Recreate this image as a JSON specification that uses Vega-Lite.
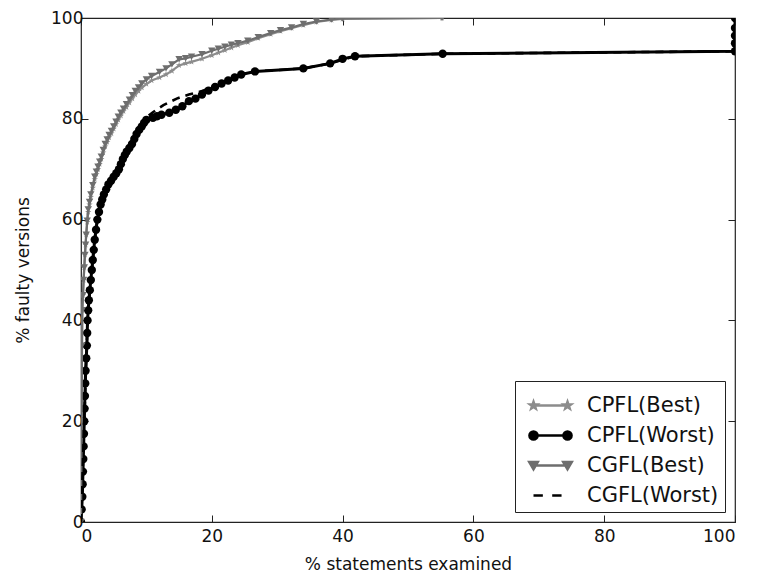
{
  "$schema": "https://vega.github.io/schema/vega-lite/v6.json",
  "width": 654,
  "height": 504,
  "autosize": {"type": "none"},
  "padding": {"left": 81, "top": 18, "right": 26, "bottom": 54},
  "background": "white",
  "config": {
    "font": "DejaVu Sans",
    "view": {"stroke": "#222222", "strokeWidth": 1.2},
    "axis": {
      "grid": false,
      "domain": false,
      "tickColor": "#222222",
      "tickSize": -7,
      "tickWidth": 1,
      "labelFont": "DejaVu Sans",
      "labelFontSize": 17,
      "labelColor": "#111111",
      "titleFont": "DejaVu Sans",
      "titleFontSize": 17,
      "titleFontWeight": "normal",
      "titleColor": "#111111"
    },
    "legend": {
      "orient": "bottom-right",
      "offset": 10,
      "padding": 6,
      "strokeColor": "#222222",
      "fillColor": "white",
      "cornerRadius": 0,
      "labelFont": "DejaVu Sans",
      "labelFontSize": 21,
      "labelColor": "#111111",
      "symbolSize": 1156,
      "symbolStrokeWidth": 2.5,
      "symbolOffset": 11,
      "labelOffset": 18,
      "rowPadding": 1
    }
  },
  "data": {
    "values": [
      {"s": "CPFL(Best)", "x": 0, "y": 0},
      {"s": "CPFL(Best)", "x": 0.1, "y": 20},
      {"s": "CPFL(Best)", "x": 0.15, "y": 35},
      {"s": "CPFL(Best)", "x": 0.2, "y": 42},
      {"s": "CPFL(Best)", "x": 0.3, "y": 45},
      {"s": "CPFL(Best)", "x": 0.4, "y": 48},
      {"s": "CPFL(Best)", "x": 0.5, "y": 50.5},
      {"s": "CPFL(Best)", "x": 0.6, "y": 53},
      {"s": "CPFL(Best)", "x": 0.7, "y": 55},
      {"s": "CPFL(Best)", "x": 0.8, "y": 57},
      {"s": "CPFL(Best)", "x": 0.95, "y": 59.5},
      {"s": "CPFL(Best)", "x": 1.1, "y": 61.5},
      {"s": "CPFL(Best)", "x": 1.3, "y": 63},
      {"s": "CPFL(Best)", "x": 1.5, "y": 64.5},
      {"s": "CPFL(Best)", "x": 1.8, "y": 66.3},
      {"s": "CPFL(Best)", "x": 2.1, "y": 68},
      {"s": "CPFL(Best)", "x": 2.35, "y": 69},
      {"s": "CPFL(Best)", "x": 2.6, "y": 70},
      {"s": "CPFL(Best)", "x": 2.85, "y": 71},
      {"s": "CPFL(Best)", "x": 3.1, "y": 72},
      {"s": "CPFL(Best)", "x": 3.4, "y": 73.3},
      {"s": "CPFL(Best)", "x": 3.7, "y": 74.5},
      {"s": "CPFL(Best)", "x": 4.0, "y": 75.4},
      {"s": "CPFL(Best)", "x": 4.3, "y": 76.3},
      {"s": "CPFL(Best)", "x": 4.65, "y": 77.1},
      {"s": "CPFL(Best)", "x": 5.0, "y": 78},
      {"s": "CPFL(Best)", "x": 5.35, "y": 78.9},
      {"s": "CPFL(Best)", "x": 5.7, "y": 79.8},
      {"s": "CPFL(Best)", "x": 6.1, "y": 80.6},
      {"s": "CPFL(Best)", "x": 6.5, "y": 81.5},
      {"s": "CPFL(Best)", "x": 6.95, "y": 82.3},
      {"s": "CPFL(Best)", "x": 7.4, "y": 83.2},
      {"s": "CPFL(Best)", "x": 7.85, "y": 84},
      {"s": "CPFL(Best)", "x": 8.3, "y": 84.8},
      {"s": "CPFL(Best)", "x": 8.8, "y": 85.5},
      {"s": "CPFL(Best)", "x": 9.3, "y": 86.2},
      {"s": "CPFL(Best)", "x": 10.0, "y": 86.9},
      {"s": "CPFL(Best)", "x": 10.8, "y": 87.6},
      {"s": "CPFL(Best)", "x": 12.0, "y": 88.2},
      {"s": "CPFL(Best)", "x": 13.0, "y": 88.8},
      {"s": "CPFL(Best)", "x": 13.9, "y": 89.5},
      {"s": "CPFL(Best)", "x": 15.0, "y": 90.6},
      {"s": "CPFL(Best)", "x": 16.0, "y": 91.0},
      {"s": "CPFL(Best)", "x": 16.9, "y": 91.3},
      {"s": "CPFL(Best)", "x": 18.5, "y": 91.9},
      {"s": "CPFL(Best)", "x": 20.0, "y": 92.6},
      {"s": "CPFL(Best)", "x": 21.0, "y": 93.1},
      {"s": "CPFL(Best)", "x": 22.0, "y": 93.6},
      {"s": "CPFL(Best)", "x": 23.0, "y": 94.1},
      {"s": "CPFL(Best)", "x": 24.0, "y": 94.6},
      {"s": "CPFL(Best)", "x": 25.5, "y": 95.2},
      {"s": "CPFL(Best)", "x": 27.1, "y": 96},
      {"s": "CPFL(Best)", "x": 29.0, "y": 96.8},
      {"s": "CPFL(Best)", "x": 30.5, "y": 97.4},
      {"s": "CPFL(Best)", "x": 32.2, "y": 98},
      {"s": "CPFL(Best)", "x": 34.0, "y": 98.6},
      {"s": "CPFL(Best)", "x": 36.0, "y": 99.2},
      {"s": "CPFL(Best)", "x": 38.3, "y": 99.6},
      {"s": "CPFL(Best)", "x": 40.0, "y": 99.8},
      {"s": "CPFL(Best)", "x": 55.2, "y": 100},

      {"s": "CPFL(Worst)", "x": 0, "y": 0},
      {"s": "CPFL(Worst)", "x": 0.1, "y": 2.5},
      {"s": "CPFL(Worst)", "x": 0.2, "y": 5},
      {"s": "CPFL(Worst)", "x": 0.25, "y": 7.5},
      {"s": "CPFL(Worst)", "x": 0.3, "y": 10},
      {"s": "CPFL(Worst)", "x": 0.35, "y": 12.5},
      {"s": "CPFL(Worst)", "x": 0.4, "y": 15},
      {"s": "CPFL(Worst)", "x": 0.45, "y": 17.5},
      {"s": "CPFL(Worst)", "x": 0.5, "y": 20},
      {"s": "CPFL(Worst)", "x": 0.55, "y": 22.5},
      {"s": "CPFL(Worst)", "x": 0.6, "y": 25},
      {"s": "CPFL(Worst)", "x": 0.65, "y": 27.5},
      {"s": "CPFL(Worst)", "x": 0.7, "y": 30},
      {"s": "CPFL(Worst)", "x": 0.8, "y": 32.5},
      {"s": "CPFL(Worst)", "x": 0.9, "y": 35},
      {"s": "CPFL(Worst)", "x": 0.95, "y": 37.5},
      {"s": "CPFL(Worst)", "x": 1.0, "y": 40},
      {"s": "CPFL(Worst)", "x": 1.1, "y": 42},
      {"s": "CPFL(Worst)", "x": 1.2, "y": 44},
      {"s": "CPFL(Worst)", "x": 1.35, "y": 46},
      {"s": "CPFL(Worst)", "x": 1.5, "y": 48},
      {"s": "CPFL(Worst)", "x": 1.65, "y": 50},
      {"s": "CPFL(Worst)", "x": 1.8, "y": 52},
      {"s": "CPFL(Worst)", "x": 1.95, "y": 54},
      {"s": "CPFL(Worst)", "x": 2.1, "y": 56},
      {"s": "CPFL(Worst)", "x": 2.3, "y": 58},
      {"s": "CPFL(Worst)", "x": 2.5, "y": 60},
      {"s": "CPFL(Worst)", "x": 2.75, "y": 61.5},
      {"s": "CPFL(Worst)", "x": 3.0, "y": 63},
      {"s": "CPFL(Worst)", "x": 3.25, "y": 64},
      {"s": "CPFL(Worst)", "x": 3.5, "y": 65},
      {"s": "CPFL(Worst)", "x": 3.85, "y": 66},
      {"s": "CPFL(Worst)", "x": 4.2, "y": 67},
      {"s": "CPFL(Worst)", "x": 4.6, "y": 67.7},
      {"s": "CPFL(Worst)", "x": 5.0, "y": 68.5},
      {"s": "CPFL(Worst)", "x": 5.4, "y": 69.2},
      {"s": "CPFL(Worst)", "x": 5.8, "y": 70},
      {"s": "CPFL(Worst)", "x": 6.1, "y": 71},
      {"s": "CPFL(Worst)", "x": 6.4, "y": 72},
      {"s": "CPFL(Worst)", "x": 6.7, "y": 72.8},
      {"s": "CPFL(Worst)", "x": 7.0, "y": 73.5},
      {"s": "CPFL(Worst)", "x": 7.4, "y": 74.2},
      {"s": "CPFL(Worst)", "x": 7.8, "y": 75},
      {"s": "CPFL(Worst)", "x": 8.15, "y": 76},
      {"s": "CPFL(Worst)", "x": 8.5, "y": 77},
      {"s": "CPFL(Worst)", "x": 8.9, "y": 77.8},
      {"s": "CPFL(Worst)", "x": 9.3, "y": 78.5},
      {"s": "CPFL(Worst)", "x": 9.65, "y": 79.2},
      {"s": "CPFL(Worst)", "x": 10.0, "y": 79.8},
      {"s": "CPFL(Worst)", "x": 11.0, "y": 80.2},
      {"s": "CPFL(Worst)", "x": 11.6, "y": 80.5},
      {"s": "CPFL(Worst)", "x": 12.3, "y": 80.8},
      {"s": "CPFL(Worst)", "x": 13.5, "y": 81.2},
      {"s": "CPFL(Worst)", "x": 14.5, "y": 81.8},
      {"s": "CPFL(Worst)", "x": 15.5, "y": 82.5},
      {"s": "CPFL(Worst)", "x": 16.5, "y": 83.5},
      {"s": "CPFL(Worst)", "x": 17.5, "y": 84},
      {"s": "CPFL(Worst)", "x": 18.5, "y": 84.8},
      {"s": "CPFL(Worst)", "x": 19.5, "y": 85.6},
      {"s": "CPFL(Worst)", "x": 20.5, "y": 86.3},
      {"s": "CPFL(Worst)", "x": 21.5, "y": 87},
      {"s": "CPFL(Worst)", "x": 22.5, "y": 87.6},
      {"s": "CPFL(Worst)", "x": 23.5, "y": 88.2},
      {"s": "CPFL(Worst)", "x": 24.5, "y": 88.8},
      {"s": "CPFL(Worst)", "x": 26.6, "y": 89.4},
      {"s": "CPFL(Worst)", "x": 34.0, "y": 90.0},
      {"s": "CPFL(Worst)", "x": 38.1, "y": 91.0},
      {"s": "CPFL(Worst)", "x": 40.0, "y": 91.9},
      {"s": "CPFL(Worst)", "x": 41.9, "y": 92.4},
      {"s": "CPFL(Worst)", "x": 55.3, "y": 92.9},
      {"s": "CPFL(Worst)", "x": 100, "y": 93.4},
      {"s": "CPFL(Worst)", "x": 100, "y": 95},
      {"s": "CPFL(Worst)", "x": 100, "y": 96.5},
      {"s": "CPFL(Worst)", "x": 100, "y": 98},
      {"s": "CPFL(Worst)", "x": 100, "y": 100},

      {"s": "CGFL(Best)", "x": 0, "y": 0},
      {"s": "CGFL(Best)", "x": 0.1, "y": 20},
      {"s": "CGFL(Best)", "x": 0.15, "y": 35},
      {"s": "CGFL(Best)", "x": 0.2, "y": 42},
      {"s": "CGFL(Best)", "x": 0.3, "y": 45},
      {"s": "CGFL(Best)", "x": 0.4, "y": 48},
      {"s": "CGFL(Best)", "x": 0.5, "y": 50.5},
      {"s": "CGFL(Best)", "x": 0.6, "y": 53},
      {"s": "CGFL(Best)", "x": 0.7, "y": 55},
      {"s": "CGFL(Best)", "x": 0.8, "y": 57},
      {"s": "CGFL(Best)", "x": 0.95, "y": 59.8},
      {"s": "CGFL(Best)", "x": 1.1, "y": 62},
      {"s": "CGFL(Best)", "x": 1.3, "y": 63.5},
      {"s": "CGFL(Best)", "x": 1.5, "y": 65},
      {"s": "CGFL(Best)", "x": 1.8, "y": 66.8},
      {"s": "CGFL(Best)", "x": 2.1, "y": 68.5},
      {"s": "CGFL(Best)", "x": 2.35, "y": 69.5},
      {"s": "CGFL(Best)", "x": 2.6, "y": 70.5},
      {"s": "CGFL(Best)", "x": 2.85, "y": 71.5},
      {"s": "CGFL(Best)", "x": 3.1, "y": 72.5},
      {"s": "CGFL(Best)", "x": 3.4, "y": 73.8},
      {"s": "CGFL(Best)", "x": 3.7, "y": 75},
      {"s": "CGFL(Best)", "x": 4.0, "y": 75.9},
      {"s": "CGFL(Best)", "x": 4.3, "y": 76.8},
      {"s": "CGFL(Best)", "x": 4.65, "y": 77.6},
      {"s": "CGFL(Best)", "x": 5.0, "y": 78.5},
      {"s": "CGFL(Best)", "x": 5.35, "y": 79.4},
      {"s": "CGFL(Best)", "x": 5.7, "y": 80.4},
      {"s": "CGFL(Best)", "x": 6.1, "y": 81.2},
      {"s": "CGFL(Best)", "x": 6.5, "y": 82},
      {"s": "CGFL(Best)", "x": 6.95, "y": 82.9},
      {"s": "CGFL(Best)", "x": 7.4, "y": 83.8},
      {"s": "CGFL(Best)", "x": 7.85, "y": 84.7},
      {"s": "CGFL(Best)", "x": 8.3, "y": 85.5},
      {"s": "CGFL(Best)", "x": 8.8, "y": 86.2},
      {"s": "CGFL(Best)", "x": 9.3, "y": 87},
      {"s": "CGFL(Best)", "x": 10.0, "y": 87.8},
      {"s": "CGFL(Best)", "x": 10.8, "y": 88.5},
      {"s": "CGFL(Best)", "x": 12.0, "y": 89.3},
      {"s": "CGFL(Best)", "x": 13.0, "y": 90.0},
      {"s": "CGFL(Best)", "x": 13.9, "y": 90.8},
      {"s": "CGFL(Best)", "x": 15.0, "y": 91.8},
      {"s": "CGFL(Best)", "x": 16.0, "y": 92.0},
      {"s": "CGFL(Best)", "x": 16.9, "y": 92.3},
      {"s": "CGFL(Best)", "x": 18.5, "y": 92.8},
      {"s": "CGFL(Best)", "x": 20.0, "y": 93.5},
      {"s": "CGFL(Best)", "x": 21.0, "y": 93.9},
      {"s": "CGFL(Best)", "x": 22.0, "y": 94.3},
      {"s": "CGFL(Best)", "x": 23.0, "y": 94.7},
      {"s": "CGFL(Best)", "x": 24.0, "y": 95},
      {"s": "CGFL(Best)", "x": 25.5, "y": 95.5},
      {"s": "CGFL(Best)", "x": 27.1, "y": 96.2},
      {"s": "CGFL(Best)", "x": 29.0, "y": 97},
      {"s": "CGFL(Best)", "x": 30.5, "y": 97.6},
      {"s": "CGFL(Best)", "x": 32.2, "y": 98.1},
      {"s": "CGFL(Best)", "x": 34.0, "y": 98.8},
      {"s": "CGFL(Best)", "x": 36.0, "y": 99.3},
      {"s": "CGFL(Best)", "x": 38.3, "y": 99.7},
      {"s": "CGFL(Best)", "x": 40.0, "y": 99.9},
      {"s": "CGFL(Best)", "x": 55.2, "y": 100},

      {"s": "CGFL(Worst)", "x": 0, "y": 0},
      {"s": "CGFL(Worst)", "x": 0.5, "y": 20},
      {"s": "CGFL(Worst)", "x": 1.0, "y": 40},
      {"s": "CGFL(Worst)", "x": 1.5, "y": 48},
      {"s": "CGFL(Worst)", "x": 2.1, "y": 56},
      {"s": "CGFL(Worst)", "x": 2.5, "y": 60},
      {"s": "CGFL(Worst)", "x": 3.5, "y": 65},
      {"s": "CGFL(Worst)", "x": 5.0, "y": 68.5},
      {"s": "CGFL(Worst)", "x": 6.4, "y": 72},
      {"s": "CGFL(Worst)", "x": 7.8, "y": 75},
      {"s": "CGFL(Worst)", "x": 9.3, "y": 78.5},
      {"s": "CGFL(Worst)", "x": 10.0, "y": 80.3},
      {"s": "CGFL(Worst)", "x": 11.0, "y": 81.3},
      {"s": "CGFL(Worst)", "x": 12.6, "y": 82.7},
      {"s": "CGFL(Worst)", "x": 14.8, "y": 84.1},
      {"s": "CGFL(Worst)", "x": 16.5, "y": 84.8},
      {"s": "CGFL(Worst)", "x": 18.5, "y": 85.5},
      {"s": "CGFL(Worst)", "x": 20.5, "y": 86.4},
      {"s": "CGFL(Worst)", "x": 22.5, "y": 87.6},
      {"s": "CGFL(Worst)", "x": 24.5, "y": 88.8},
      {"s": "CGFL(Worst)", "x": 26.6, "y": 89.4},
      {"s": "CGFL(Worst)", "x": 34.0, "y": 90.0},
      {"s": "CGFL(Worst)", "x": 38.1, "y": 91.0},
      {"s": "CGFL(Worst)", "x": 41.9, "y": 92.4},
      {"s": "CGFL(Worst)", "x": 55.3, "y": 92.9},
      {"s": "CGFL(Worst)", "x": 100, "y": 93.4},
      {"s": "CGFL(Worst)", "x": 100, "y": 100}
    ]
  },
  "layer": [
    {
      "transform": [{"filter": "datum.s == 'CPFL(Best)'"}],
      "mark": {"type": "line", "clip": true, "color": "#8c8c8c", "strokeWidth": 2.2},
      "encoding": {
        "x": {"field": "x", "type": "quantitative", "scale": {"domain": [0, 100], "nice": false, "zero": false},
              "axis": {"orient": "bottom", "title": "%  statements examined", "values": [0, 20, 40, 60, 80, 100], "labelPadding": 13, "titlePadding": 12}},
        "y": {"field": "y", "type": "quantitative", "scale": {"domain": [0, 100], "nice": false, "zero": false},
              "axis": {"orient": "left", "title": "% faulty versions", "values": [0, 20, 40, 60, 80, 100], "labelPadding": 5, "titlePadding": 18}},
        "order": {"field": "y", "type": "quantitative"}
      }
    },
    {
      "transform": [{"filter": "datum.s == 'CPFL(Best)'"}],
      "mark": {"type": "point", "filled": true, "clip": true, "opacity": 1, "color": "#8c8c8c", "size": 45,
               "shape": "M0,-1L0.235,-0.324L0.951,-0.309L0.38,0.124L0.588,0.809L0,0.4L-0.588,0.809L-0.38,0.124L-0.951,-0.309L-0.235,-0.324Z"},
      "encoding": {
        "x": {"field": "x", "type": "quantitative",
              "axis": {"orient": "top", "labels": false, "title": null, "values": [0, 20, 40, 60, 80, 100]}},
        "y": {"field": "y", "type": "quantitative",
              "axis": {"orient": "right", "labels": false, "title": null, "values": [0, 20, 40, 60, 80, 100]}}
      }
    },
    {
      "transform": [{"filter": "datum.s == 'CPFL(Worst)'"}],
      "mark": {"type": "line", "clip": true, "color": "#000000", "strokeWidth": 3},
      "encoding": {
        "x": {"field": "x", "type": "quantitative", "axis": null},
        "y": {"field": "y", "type": "quantitative", "axis": null},
        "order": {"field": "y", "type": "quantitative"}
      }
    },
    {
      "transform": [{"filter": "datum.s == 'CPFL(Worst)'"}],
      "mark": {"type": "point", "filled": true, "clip": true, "opacity": 1, "color": "#000000", "size": 70, "shape": "circle"},
      "encoding": {
        "x": {"field": "x", "type": "quantitative", "axis": null},
        "y": {"field": "y", "type": "quantitative", "axis": null}
      }
    },
    {
      "transform": [{"filter": "datum.s == 'CGFL(Best)'"}],
      "mark": {"type": "line", "clip": true, "color": "#6e6e6e", "strokeWidth": 2.2},
      "encoding": {
        "x": {"field": "x", "type": "quantitative", "axis": null},
        "y": {"field": "y", "type": "quantitative", "axis": null},
        "order": {"field": "y", "type": "quantitative"}
      }
    },
    {
      "transform": [{"filter": "datum.s == 'CGFL(Best)'"}],
      "mark": {"type": "point", "filled": true, "clip": true, "opacity": 1, "color": "#6e6e6e", "size": 55, "shape": "triangle-down"},
      "encoding": {
        "x": {"field": "x", "type": "quantitative", "axis": null},
        "y": {"field": "y", "type": "quantitative", "axis": null}
      }
    },
    {
      "transform": [{"filter": "datum.s == 'CGFL(Worst)'"}],
      "mark": {"type": "line", "clip": true, "color": "#000000", "strokeWidth": 2.6, "strokeDash": [8, 6]},
      "encoding": {
        "x": {"field": "x", "type": "quantitative", "axis": null},
        "y": {"field": "y", "type": "quantitative", "axis": null},
        "order": {"field": "y", "type": "quantitative"}
      }
    },
    {
      "transform": [{"filter": "datum.x < 0"}],
      "mark": {"type": "point", "filled": true, "strokeWidth": 2.5, "opacity": 1},
      "encoding": {
        "x": {"field": "x", "type": "quantitative", "axis": null},
        "y": {"field": "y", "type": "quantitative", "axis": null},
        "color": {"field": "s", "type": "nominal", "title": null,
                 "scale": {"domain": ["CPFL(Best)", "CPFL(Worst)", "CGFL(Best)", "CGFL(Worst)"],
                           "range": ["#8c8c8c", "#000000", "#6e6e6e", "#000000"]}},
        "stroke": {"field": "s", "type": "nominal", "title": null,
                 "scale": {"domain": ["CPFL(Best)", "CPFL(Worst)", "CGFL(Best)", "CGFL(Worst)"],
                           "range": ["#8c8c8c", "#000000", "#6e6e6e", "#000000"]}},
        "shape": {"field": "s", "type": "nominal", "title": null,
                  "scale": {"domain": ["CPFL(Best)", "CPFL(Worst)", "CGFL(Best)", "CGFL(Worst)"],
                            "range": [
                              "M-1,0L1,0M-1,-0.22L-0.948,-0.071L-0.791,-0.068L-0.916,0.027L-0.871,0.178L-1,0.088L-1.129,0.178L-1.084,0.027L-1.209,-0.068L-1.052,-0.071ZM1,-0.22L1.052,-0.071L1.209,-0.068L1.084,0.027L1.129,0.178L1,0.088L0.871,0.178L0.916,0.027L0.791,-0.068L0.948,-0.071Z",
                              "M-1,0L1,0M-1.24,0A0.24,0.24 0 1,0 -0.76,0A0.24,0.24 0 1,0 -1.24,0ZM0.76,0A0.24,0.24 0 1,0 1.24,0A0.24,0.24 0 1,0 0.76,0Z",
                              "M-1,0L1,0M-1.25,-0.2L-0.75,-0.2L-1,0.22ZM0.75,-0.2L1.25,-0.2L1,0.22Z",
                              "M-1,0L-0.45,0M0.1,0L0.65,0"
                            ]}}
      }
    }
  ],
  "resolve": {
    "axis": {"x": "independent", "y": "independent"}
  }
}
